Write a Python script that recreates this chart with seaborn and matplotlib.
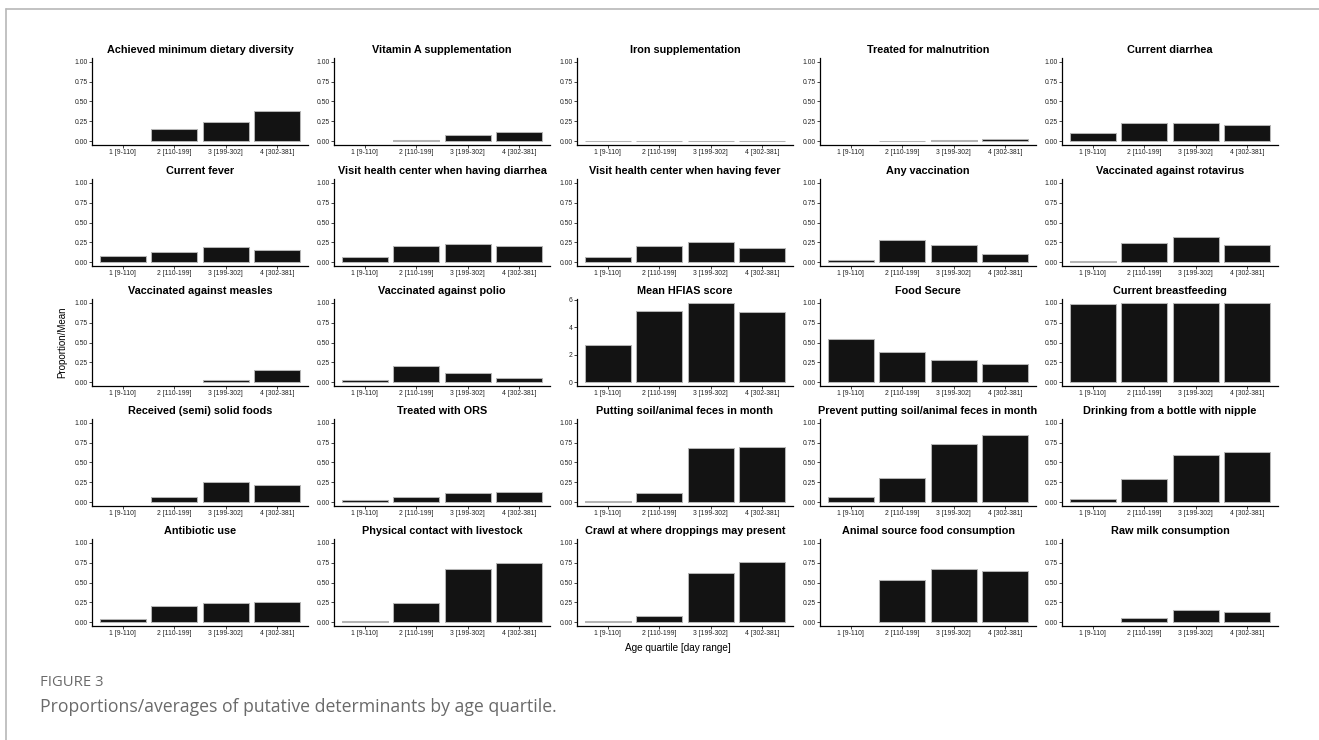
import numpy as np
import pandas as pd
import matplotlib.pyplot as plt
import matplotlib.lines as mlines
import seaborn as sns

# Age quartiles (x categories) and panel titles
quartiles = ['1 [9-110]', '2 [110-199]', '3 [199-302]', '4 [302-381]']
titles = [
    'Achieved minimum dietary diversity', 'Vitamin A supplementation', 'Iron supplementation',
    'Treated for malnutrition', 'Current diarrhea',
    'Current fever', 'Visit health center when having diarrhea', 'Visit health center when having fever',
    'Any vaccination', 'Vaccinated against rotavirus',
    'Vaccinated against measles', 'Vaccinated against polio', 'Mean HFIAS score',
    'Food Secure', 'Current breastfeeding',
    'Received (semi) solid foods', 'Treated with ORS', 'Putting soil/animal feces in month',
    'Prevent putting soil/animal feces in month', 'Drinking from a bottle with nipple',
    'Antibiotic use', 'Physical contact with livestock', 'Crawl at where droppings may present',
    'Animal source food consumption', 'Raw milk consumption',
]

# proportion / mean per panel, one list per quartile (0 = no bar drawn)
q1 = [0, 0, 0.005, 0, 0.10,
      0.08, 0.068, 0.07, 0.03, 0.015,
      0, 0.02, 2.7, 0.54, 0.99,
      0, 0.03, 0.013, 0.064, 0.04,
      0.034, 0.017, 0.01, 0, 0]
q2 = [0.157, 0.008, 0.005, 0.005, 0.225,
      0.13, 0.20, 0.20, 0.28, 0.24,
      0, 0.20, 5.2, 0.375, 1.0,
      0.06, 0.068, 0.12, 0.306, 0.29,
      0.20, 0.246, 0.077, 0.534, 0.051]
q3 = [0.243, 0.08, 0.005, 0.015, 0.225,
      0.187, 0.234, 0.256, 0.22, 0.316,
      0.02, 0.12, 5.75, 0.276, 1.0,
      0.25, 0.115, 0.68, 0.73, 0.60,
      0.246, 0.674, 0.624, 0.667, 0.154]
q4 = [0.379, 0.12, 0.005, 0.025, 0.205,
      0.157, 0.20, 0.18, 0.107, 0.22,
      0.15, 0.05, 5.09, 0.23, 1.0,
      0.22, 0.13, 0.70, 0.85, 0.63,
      0.25, 0.746, 0.765, 0.641, 0.128]

df = pd.DataFrame({
    'panel': np.repeat(titles, 4),
    'quartile': quartiles * len(titles),
    'value': np.column_stack([q1, q2, q3, q4]).ravel(),
})

W, H = 1319, 740
sns.set_style('ticks')
plt.rcParams['font.family'] = ['Liberation Sans', 'DejaVu Sans']

fig = plt.figure(figsize=(W / 100, H / 100), dpi=100)

lefts = [92, 334, 577, 820, 1062]
tops = [58, 179, 299, 419, 539]
pw, ph = 216, 87

for i, title in enumerate(titles):
    r, c = divmod(i, 5)
    ax = fig.add_axes([lefts[c] / W, 1 - (tops[r] + ph) / H, pw / W, ph / H])
    sub = df[(df.panel == title) & (df.value > 0)]
    sns.barplot(data=sub, x='quartile', y='value', order=quartiles, color='#131313',
                saturation=1, width=0.9, edgecolor='#b4b4b4', linewidth=0.75, ax=ax)
    ax.set_xlim(-0.6, 3.6)
    if title == 'Mean HFIAS score':
        top = sub.value.max()
        ax.set_ylim(-0.05 * top, 1.05 * top)
        ax.set_yticks([0, 2, 4, 6])
        ax.set_yticklabels(['0', '2', '4', '6'])
    else:
        ax.set_ylim(-0.05, 1.05)
        ax.set_yticks([0, 0.25, 0.5, 0.75, 1.0])
        ax.set_yticklabels(['0.00', '0.25', '0.50', '0.75', '1.00'])
    ax.set_xlabel('')
    ax.set_ylabel('')
    ax.set_title(title, fontsize=7.8, fontweight='bold', pad=3.5, color='black')
    sns.despine(ax=ax)
    for s in ['left', 'bottom']:
        ax.spines[s].set_color('black')
        ax.spines[s].set_linewidth(0.9)
    ax.tick_params(length=2, width=0.6, pad=1.2, labelsize=4.9, colors='#222222')

fig.text(62 / W, 1 - 342 / H, 'Proportion/Mean', rotation=90, ha='center', va='center',
         fontsize=7, color='black')
fig.text(678 / W, 1 - 648 / H, 'Age quartile [day range]', ha='center', va='center',
         fontsize=7.2, color='black')

# caption
fig.text(40 / W, 1 - 683 / H, 'FIGURE 3', ha='left', va='center', fontsize=10.7,
         color='#6a6a6a', family=['Open Sans', 'DejaVu Sans'])
fig.text(40 / W, 1 - 707 / H, 'Proportions/averages of putative determinants by age quartile.',
         ha='left', va='center', fontsize=12.7, color='#6a6a6a', family=['Open Sans', 'DejaVu Sans'])

# frame lines
fig.add_artist(mlines.Line2D([6 / W, 1], [1 - 9.3 / H, 1 - 9.3 / H], color='#b8b8b8', lw=1.2,
                             transform=fig.transFigure))
fig.add_artist(mlines.Line2D([6 / W, 6 / W], [0, 1 - 9.3 / H], color='#b8b8b8', lw=1.2,
                             transform=fig.transFigure))

fig.savefig('out.png', dpi=100)
plt.close()
